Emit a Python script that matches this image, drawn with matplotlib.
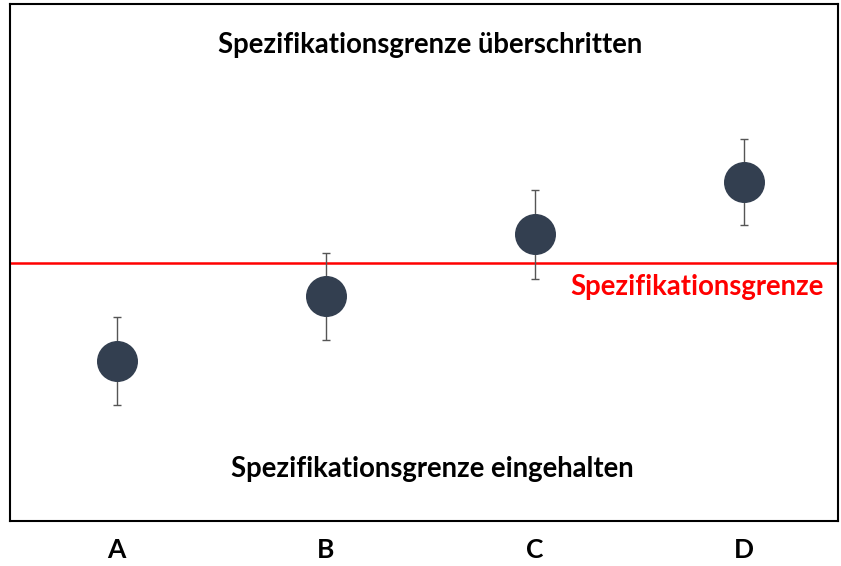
import matplotlib.pyplot as plt

categories = ["A", "B", "C", "D"]
means = [3.1, 4.35, 5.55, 6.55]
errors = [0.85, 0.84, 0.86, 0.83]
spec_limit = 5.0

plt.rcParams['font.family'] = ['Lato', 'DejaVu Sans']

fig = plt.figure(figsize=(8.41, 5.66), dpi=100)
ax = fig.add_axes([10 / 841, 1 - 521 / 566, 828 / 841, 517 / 566])

x = list(range(len(categories)))
ax.errorbar(x, means, yerr=errors, fmt='none', ecolor='#555555',
            elinewidth=1.0, capsize=3, capthick=1.0, zorder=2)
ax.plot(x, means, 'o', color='#333f50', markersize=28.5, zorder=3)

ax.axhline(spec_limit, color='#ff0000', linewidth=1.8, zorder=1)
ax.text(0.983, spec_limit - 0.23, "Spezifikationsgrenze", color='#ff0000',
        fontsize=19.8, fontweight='bold', ha='right', va='top',
        transform=ax.get_yaxis_transform())

ax.text(0.508, 0.92, "Spezifikationsgrenze überschritten", fontsize=19.8,
        fontweight='bold', ha='center', va='center', transform=ax.transAxes)
ax.text(0.51, 0.1, "Spezifikationsgrenze eingehalten", fontsize=19.8,
        fontweight='bold', ha='center', va='center', transform=ax.transAxes)

ax.set_xlim(-0.51, 3.45)
ax.set_ylim(0, 10)
ax.set_xticks(x)
ax.set_xticklabels(categories, fontsize=19, fontweight='bold')
ax.tick_params(axis='x', length=0, pad=12)
ax.set_yticks([])
for side in ax.spines.values():
    side.set_linewidth(1.5)
    side.set_color('black')

fig.savefig("out.png", dpi=100)
